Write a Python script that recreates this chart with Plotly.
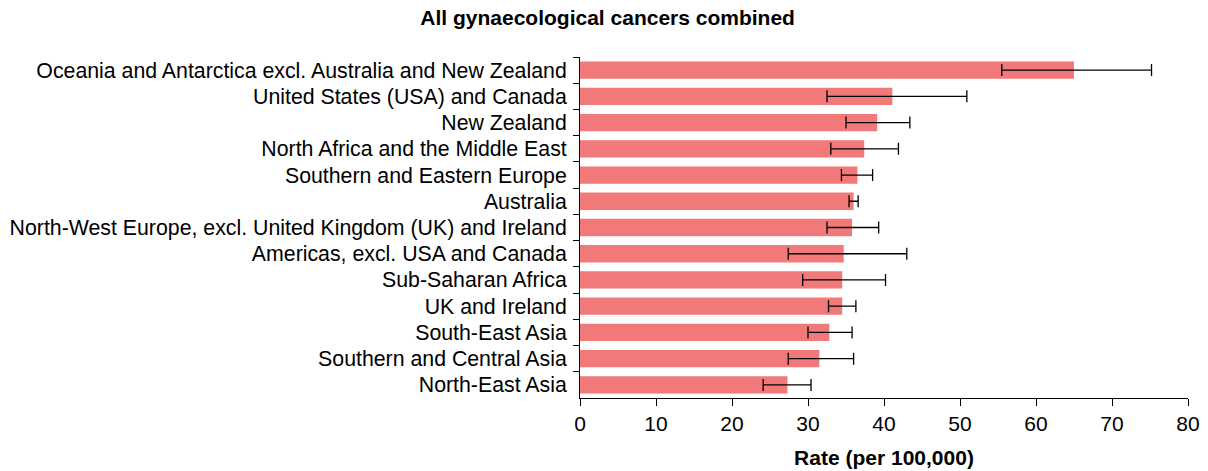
import plotly.graph_objects as go

regions = [
    "Oceania and Antarctica excl. Australia and New Zealand",
    "United States (USA) and Canada",
    "New Zealand",
    "North Africa and the Middle East",
    "Southern and Eastern Europe",
    "Australia",
    "North-West Europe, excl. United Kingdom (UK) and Ireland",
    "Americas, excl. USA and Canada",
    "Sub-Saharan Africa",
    "UK and Ireland",
    "South-East Asia",
    "Southern and Central Asia",
    "North-East Asia",
]
rate = [65.0, 41.1, 39.1, 37.4, 36.5, 36.0, 35.8, 34.7, 34.5, 34.5, 32.8, 31.5, 27.3]
ci_low = [55.5, 32.5, 35.0, 33.0, 34.4, 35.4, 32.5, 27.4, 29.3, 32.7, 30.0, 27.4, 24.1]
ci_high = [75.2, 50.9, 43.4, 41.9, 38.5, 36.6, 39.3, 43.0, 40.2, 36.3, 35.8, 36.0, 30.4]

err_plus = [h - r for h, r in zip(ci_high, rate)]
err_minus = [r - l for r, l in zip(rate, ci_low)]

FONT = "Liberation Sans, Arial, sans-serif"

fig = go.Figure(
    go.Bar(
        x=rate,
        y=regions,
        orientation="h",
        marker=dict(color="#F17979", line=dict(width=0)),
        error_x=dict(
            type="data",
            symmetric=False,
            array=err_plus,
            arrayminus=err_minus,
            color="black",
            thickness=1.3,
            width=6,
        ),
    )
)

fig.update_layout(
    width=1208,
    height=471,
    margin=dict(l=580, r=20, t=57, b=73, autoexpand=False),
    paper_bgcolor="white",
    plot_bgcolor="white",
    bargap=0.34,
    showlegend=False,
    font=dict(family=FONT, color="black", size=21),
    title=dict(
        text="<b>All gynaecological cancers combined</b>",
        x=0.503,
        xanchor="center",
        y=0.962,
        yanchor="middle",
        font=dict(size=21, family=FONT, color="black"),
    ),
)

fig.update_xaxes(
    range=[0, 80],
    tickmode="linear",
    tick0=0,
    dtick=10,
    showgrid=False,
    zeroline=False,
    showline=True,
    linecolor="black",
    linewidth=1,
    ticks="outside",
    ticklen=7,
    tickcolor="black",
    tickfont=dict(size=21, family=FONT),
    title=dict(text="<b>Rate (per 100,000)</b>", font=dict(size=21, family=FONT), standoff=16),
    automargin=False,
)

fig.update_yaxes(
    categoryorder="array",
    categoryarray=regions,
    autorange="reversed",
    showgrid=False,
    zeroline=False,
    showline=True,
    linecolor="black",
    linewidth=1,
    ticks="outside",
    tickson="boundaries",
    ticklen=6,
    tickcolor="black",
    tickfont=dict(size=21.3, family=FONT),
    ticklabelstandoff=8,
    automargin=False,
)

fig.write_html(
    "out.html",
    config={"displayModeBar": False},
    post_script="document.body.style.margin='0';document.body.style.padding='0';",
)
